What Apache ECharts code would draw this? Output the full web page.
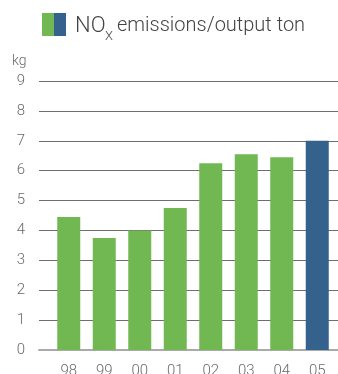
<!DOCTYPE html>
<html>
<head>
<meta charset="utf-8">
<script src="https://cdn.jsdelivr.net/npm/echarts@6/dist/echarts.min.js"></script>
<style>
  html, body { margin: 0; padding: 0; background: #fff; }
  #chart { width: 338px; height: 374px; }
</style>
</head>
<body>
<div id="chart"></div>
<script>
const years = ['98', '99', '00', '01', '02', '03', '04', '05'];
const noxPerTon = [4.45, 3.75, 4.0, 4.75, 6.25, 6.55, 6.45, 7.0];
const yTicks = { min: 0, max: 9, interval: 1 };

const green = '#71b852';
const blue = '#35628c';
const font = 'Roboto, "Liberation Sans", sans-serif';

const chart = echarts.init(document.getElementById('chart'), null, { renderer: 'canvas' });

const option = {
  backgroundColor: '#fff',
  animation: false,
  grid: [
    // grid 0 only carries the gridlines and y labels (they run wider than the bars)
    { left: 39, right: 0, top: 81, bottom: 24, outerBoundsMode: 'none' },
    { left: 51, right: 3, top: 81, bottom: 24, outerBoundsMode: 'none' }
  ],
  xAxis: [
    {
      gridIndex: 0,
      type: 'value',
      min: 0,
      max: 1,
      axisLine: { show: true, lineStyle: { color: '#aaa', width: 2 } },
      axisTick: { show: false },
      axisLabel: { show: false },
      splitLine: { show: false }
    },
    {
      gridIndex: 1,
      type: 'category',
      data: years,
      axisLine: { show: false },
      axisTick: { show: false },
      axisLabel: {
        margin: 14,
        fontSize: 15,
        color: '#6a6a6a',
        fontFamily: font,
        fontWeight: 300
      }
    }
  ],
  yAxis: [
    {
      gridIndex: 0,
      type: 'value',
      min: yTicks.min,
      max: yTicks.max,
      interval: yTicks.interval,
      axisLine: { show: false },
      axisTick: { show: false },
      axisLabel: {
        margin: 14,
        fontSize: 15,
        color: '#6a6a6a',
        fontFamily: font,
        fontWeight: 300
      },
      splitLine: { lineStyle: { color: '#6e6e6e', width: 1 } }
    },
    {
      gridIndex: 1,
      type: 'value',
      min: yTicks.min,
      max: yTicks.max,
      interval: yTicks.interval,
      show: false,
      splitLine: { show: false }
    }
  ],
  series: [
    {
      type: 'bar',
      xAxisIndex: 1,
      yAxisIndex: 1,
      barWidth: 23,
      z: 3,
      data: noxPerTon.map((v, i) => ({
        value: v,
        itemStyle: { color: i === noxPerTon.length - 1 ? blue : green }
      }))
    }
  ],
  graphic: [
    { type: 'rect', shape: { x: 42, y: 13, width: 12, height: 23 }, style: { fill: green } },
    { type: 'rect', shape: { x: 54, y: 13, width: 12, height: 23 }, style: { fill: blue } },
    {
      type: 'text', x: 75, y: 15,
      style: { text: 'NO', font: '300 22px ' + font, fill: '#444', verticalAlign: 'top' }
    },
    {
      type: 'text', x: 105, y: 30,
      style: { text: 'X', font: '300 13px ' + font, fill: '#444', verticalAlign: 'top' }
    },
    {
      type: 'text', x: 117, y: 16,
      style: { text: 'emissions/output ton', font: '300 20px ' + font, fill: '#444', verticalAlign: 'top' }
    },
    {
      type: 'text', x: 12, y: 54,
      style: { text: 'kg', font: '300 14px ' + font, fill: '#6a6a6a', verticalAlign: 'top' }
    }
  ]
};

chart.setOption(option);
window.addEventListener('resize', () => chart.resize());
</script>
</body>
</html>
